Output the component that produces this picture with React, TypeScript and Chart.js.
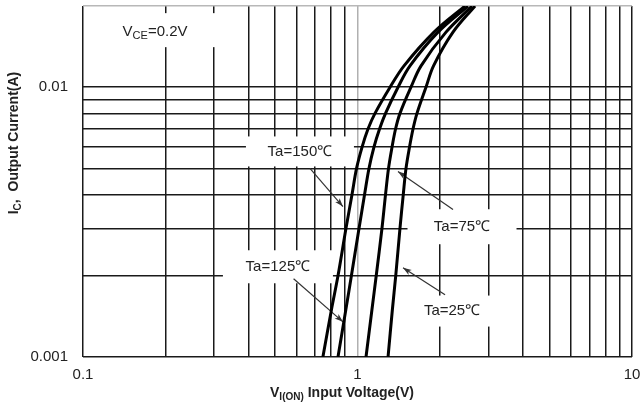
import React, { useEffect, useRef } from "react";
import { Chart, registerables } from "chart.js";

Chart.register(...registerables);

// ---- data ----
const currents = [0.001, 0.0015, 0.002, 0.003, 0.004, 0.005, 0.006, 0.007, 0.008, 0.01, 0.012, 0.016, 0.02];
const v150 = [0.748, 0.804, 0.849, 0.908, 0.955, 0.992, 1.039, 1.092, 1.158, 1.314, 1.477, 1.9, 2.464];
const v125 = [0.849, 0.907, 0.95, 1.013, 1.061, 1.101, 1.148, 1.203, 1.265, 1.405, 1.553, 1.965, 2.527];
const v75 = [1.074, 1.129, 1.17, 1.228, 1.265, 1.297, 1.336, 1.376, 1.428, 1.566, 1.704, 2.101, 2.613];
const v25 = [1.292, 1.34, 1.378, 1.428, 1.468, 1.502, 1.547, 1.593, 1.647, 1.776, 1.892, 2.228, 2.68];
const seriesNames = ["Ta=150℃", "Ta=125℃", "Ta=75℃", "Ta=25℃"];

const xTickValues = [0.1, 0.2, 0.3, 0.4, 0.5, 0.6, 0.7, 0.8, 0.9, 1, 2, 3, 4, 5, 6, 7, 8, 9, 10];
const xTickLabels = ["0.1", "1", "10"];
const yTickValues = [0.001, 0.002, 0.003, 0.004, 0.005, 0.006, 0.007, 0.008, 0.009, 0.01, 0.02];
const yTickLabels = ["0.001", "0.01"];

// annotation anchors (data coordinates)
const labelX = [0.617, 0.513, 2.403, 2.21];
const labelY = [0.00578, 0.00216, 0.00304, 0.00148];
const arrowFromX = [0.671, 0.585, 2.228, 2.084];
const arrowFromY = [0.005, 0.00195, 0.00352, 0.0017];
const arrowToX = [0.885, 0.885, 1.404, 1.465];
const arrowToY = [0.00361, 0.00135, 0.00487, 0.00214];
const vceX = 0.183;
const vceY = 0.016;

// ---- styles ----
const FONT = "'Liberation Sans', Arial, sans-serif";
const boxW = [108, 110, 109, 95];
const boxH = [30, 33, 35, 31];

type Part = { t: string; sub?: boolean };

function drawRich(ctx: CanvasRenderingContext2D, parts: Part[], cx: number, cy: number, size: number, bold: boolean, subSize: number) {
  const w = bold ? "bold " : "";
  let total = 0;
  const widths = parts.map((p) => {
    ctx.font = `${w}${p.sub ? subSize : size}px ${FONT}`;
    const m = ctx.measureText(p.t).width;
    total += m;
    return m;
  });
  let x = cx - total / 2;
  ctx.textAlign = "left";
  ctx.textBaseline = "middle";
  parts.forEach((p, i) => {
    ctx.font = `${w}${p.sub ? subSize : size}px ${FONT}`;
    ctx.fillText(p.t, x, cy + (p.sub ? size * 0.28 : 0));
    x += widths[i];
  });
}

function drawArrow(ctx: CanvasRenderingContext2D, x1: number, y1: number, x2: number, y2: number) {
  ctx.strokeStyle = "#333";
  ctx.fillStyle = "#333";
  ctx.lineWidth = 1.2;
  ctx.beginPath();
  ctx.moveTo(x1, y1);
  ctx.lineTo(x2, y2);
  ctx.stroke();
  const a = Math.atan2(y2 - y1, x2 - x1);
  const L = 9;
  const s = 0.33;
  ctx.beginPath();
  ctx.moveTo(x2, y2);
  ctx.lineTo(x2 - L * Math.cos(a - s), y2 - L * Math.sin(a - s));
  ctx.lineTo(x2 - L * 0.7 * Math.cos(a), y2 - L * 0.7 * Math.sin(a));
  ctx.lineTo(x2 - L * Math.cos(a + s), y2 - L * Math.sin(a + s));
  ctx.closePath();
  ctx.fill();
}

const annotPlugin = {
  id: "annot",
  beforeDatasetsDraw(chart: any) {
    const { ctx } = chart;
    const xs = chart.scales.x;
    const ys = chart.scales.y;
    ctx.save();
    const vx = xs.getPixelForValue(vceX);
    const vy = ys.getPixelForValue(vceY);
    ctx.fillStyle = "#fff";
    ctx.fillRect(vx - 60, vy - 19, 122, 34);
    ctx.fillStyle = "#222";
    drawRich(ctx, [{ t: "V" }, { t: "CE", sub: true }, { t: "=0.2V" }], vx, vy, 15, false, 11);
    seriesNames.forEach((name, i) => {
      const cx = xs.getPixelForValue(labelX[i]);
      const cy = ys.getPixelForValue(labelY[i]);
      ctx.fillStyle = "#fff";
      ctx.fillRect(cx - boxW[i] / 2, cy - boxH[i] / 2, boxW[i], boxH[i]);
      ctx.fillStyle = "#222";
      drawRich(ctx, [{ t: name }], cx, cy, 15, false, 11);
      drawArrow(
        ctx,
        xs.getPixelForValue(arrowFromX[i]),
        ys.getPixelForValue(arrowFromY[i]),
        xs.getPixelForValue(arrowToX[i]),
        ys.getPixelForValue(arrowToY[i])
      );
    });
    ctx.restore();
  },
  afterDraw(chart: any) {
    const { ctx, chartArea } = chart;
    ctx.save();
    ctx.fillStyle = "#222";
    drawRich(
      ctx,
      [{ t: "V" }, { t: "I(ON)", sub: true }, { t: " Input Voltage(V)" }],
      chartArea.left + 259,
      393,
      14,
      true,
      10
    );
    ctx.translate(14, 143);
    ctx.rotate(-Math.PI / 2);
    drawRich(ctx, [{ t: "I" }, { t: "C", sub: true }, { t: ",  Output Current(A)" }], 0, 0, 14, true, 10);
    ctx.restore();
  },
};

function near(a: number, b: number) {
  return Math.abs(Math.log10(a) - Math.log10(b)) < 1e-6;
}

function zeroPad(s: any) {
  s.paddingTop = 0;
  s.paddingBottom = 0;
  s.paddingLeft = 0;
  s.paddingRight = 0;
}

export default function App() {
  const ref = useRef<HTMLCanvasElement>(null);
  useEffect(() => {
    if (!ref.current) return;
    const mk = (xsArr: number[]) => xsArr.map((v, i) => ({ x: v, y: currents[i] }));
    const datasets = [v150, v125, v75, v25].map((arr, i) => ({
      label: seriesNames[i],
      data: mk(arr),
      showLine: true,
      borderColor: "#000",
      borderWidth: 3,
      pointRadius: 0,
      tension: 0.35,
      fill: false,
    }));
    const chart = new Chart(ref.current, {
      type: "scatter",
      data: { datasets },
      plugins: [annotPlugin],
      options: {
        animation: false,
        responsive: false,
        devicePixelRatio: 1,
        layout: { padding: { left: 0, right: 9, top: 6, bottom: 0 } },
        plugins: { legend: { display: false }, tooltip: { enabled: false } },
        scales: {
          x: {
            type: "logarithmic",
            min: 0.1,
            max: 10,
            afterBuildTicks: (s: any) => {
              s.ticks = xTickValues.map((v) => ({ value: v }));
            },
            afterFit: (s: any) => {
              s.height = 53;
              zeroPad(s);
            },
            ticks: {
              autoSkip: false,
              maxRotation: 0,
              padding: 9,
              color: "#222",
              font: { family: FONT, size: 15 },
              callback: (v: any) => {
                const lbl = xTickLabels.find((t) => near(parseFloat(t), Number(v)));
                return lbl ?? "";
              },
            },
            grid: {
              drawTicks: false,
              lineWidth: 1.5,
              color: (c: any) => (c.tick && near(c.tick.value, 1) ? "#b0b0b0" : "#1a1a1a"),
            },
            border: { display: false },
          },
          y: {
            type: "logarithmic",
            min: 0.001,
            max: 0.02,
            afterBuildTicks: (s: any) => {
              s.ticks = yTickValues.map((v) => ({ value: v }));
            },
            afterFit: (s: any) => {
              s.width = 83;
              zeroPad(s);
            },
            ticks: {
              autoSkip: false,
              padding: 15,
              color: "#222",
              font: { family: FONT, size: 15 },
              callback: (v: any) => {
                const lbl = yTickLabels.find((t) => near(parseFloat(t), Number(v)));
                return lbl ?? "";
              },
            },
            grid: {
              drawTicks: false,
              lineWidth: 1.5,
              color: (c: any) => (c.tick && near(c.tick.value, 0.02) ? "#b8b8b8" : "#1a1a1a"),
            },
            border: { display: false },
          },
        },
      },
    });
    return () => chart.destroy();
  }, []);
  return (
    <canvas
      ref={ref}
      width={641}
      height={410}
      style={{ position: "absolute", left: 0, top: 0, width: 641, height: 410, background: "#fff" }}
    />
  );
}
